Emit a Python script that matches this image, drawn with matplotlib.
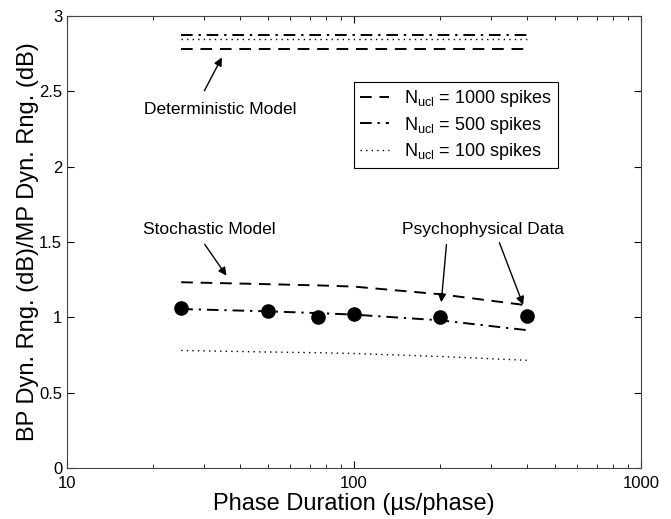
import numpy as np
import matplotlib
matplotlib.use('Agg')
import matplotlib.pyplot as plt

plt.rcParams['font.family'] = ['Liberation Sans', 'DejaVu Sans']
plt.rcParams['mathtext.fontset'] = 'custom'
plt.rcParams['mathtext.rm'] = 'Liberation Sans'

# phase durations (us/phase)
phase = [25, 50, 75, 100, 200, 400]
# psychophysical data
psych = [1.064, 1.044, 1.004, 1.022, 1.004, 1.01]
# stochastic model, one series per N_ucl
stoch_1000 = [1.233, 1.22, 1.212, 1.204, 1.153, 1.08]
stoch_500 = [1.055, 1.04, 1.028, 1.018, 0.98, 0.915]
stoch_100 = [0.78, 0.77, 0.765, 0.76, 0.74, 0.715]
# deterministic model (flat)
det_1000 = 2.78
det_500 = 2.876
det_100 = 2.846
labels = ['$\\mathregular{N_{ucl}}$ = 1000 spikes',
          '$\\mathregular{N_{ucl}}$ = 500 spikes',
          '$\\mathregular{N_{ucl}}$ = 100 spikes']

fig = plt.figure(figsize=(6.71, 5.19), dpi=100)
ax = fig.add_axes([67/671, 51/519, 574/671, 452/519])

l1, = ax.plot(phase, stoch_1000, color='k', ls=(0, (6, 4)), lw=1.4)
l2, = ax.plot(phase, stoch_500, color='k', ls=(0, (6, 3, 1.2, 3)), lw=1.4)
l3, = ax.plot(phase, stoch_100, color='k', ls=(0, (1, 3)), lw=1.0)
ax.plot(phase, [det_1000]*len(phase), color='k', ls=(0, (6, 4)), lw=1.4)
ax.plot(phase, [det_500]*len(phase), color='k', ls=(0, (6, 3, 1.2, 3)), lw=1.4)
ax.plot(phase, [det_100]*len(phase), color='k', ls=(0, (1, 3)), lw=1.0)
ax.plot(phase, psych, 'o', color='k', ms=9.5, ls='none')

ax.set_xscale('log')
ax.set_xlim(10, 1000)
ax.set_ylim(0, 3)
ax.set_xticks([10, 100, 1000], labels=['10', '100', '1000'])
ax.set_yticks([0, 0.5, 1, 1.5, 2, 2.5, 3], labels=['0', '0.5', '1', '1.5', '2', '2.5', '3'])
ax.tick_params(which='both', direction='in', top=True, right=True, labelsize=12)
ax.tick_params(which='major', length=5)
ax.tick_params(which='minor', length=3)
ax.tick_params(axis='x', pad=6)
for s in ax.spines.values():
    s.set_color('#444444')
    s.set_linewidth(0.8)

ax.set_xlabel('Phase Duration (\u00b5s/phase)', fontsize=17, labelpad=1)
ax.set_ylabel('BP Dyn. Rng. (dB)/MP Dyn. Rng. (dB)', fontsize=17, labelpad=0)

leg = ax.legend([l1, l2, l3], labels, loc='upper left', bbox_to_anchor=(0.5, 0.854),
                borderaxespad=0, fontsize=13, handlelength=1.6, fancybox=False,
                framealpha=1, borderpad=0.35, labelspacing=0.3, handletextpad=0.8)
leg.get_frame().set_edgecolor('k')
leg.get_frame().set_linewidth(0.8)

arw = dict(arrowstyle='-|>', color='k', lw=1.0, mutation_scale=12)
ax.text(34.1, 2.382, 'Deterministic Model', fontsize=12.5, ha='center', va='center')
ax.annotate('', xy=(35.0, 2.741), xytext=(29.8, 2.488), arrowprops=arw)
ax.text(31.3, 1.586, 'Stochastic Model', fontsize=12.5, ha='center', va='center')
ax.annotate('', xy=(36.4, 1.261), xytext=(29.8, 1.50), arrowprops=arw)
ax.text(281.5, 1.586, 'Psychophysical Data', fontsize=12.5, ha='center', va='center')
ax.annotate('', xy=(201, 1.082), xytext=(210.4, 1.502), arrowprops=arw)
ax.annotate('', xy=(391.6, 1.066), xytext=(318.4, 1.513), arrowprops=arw)

plt.savefig('out.png', dpi=100)
